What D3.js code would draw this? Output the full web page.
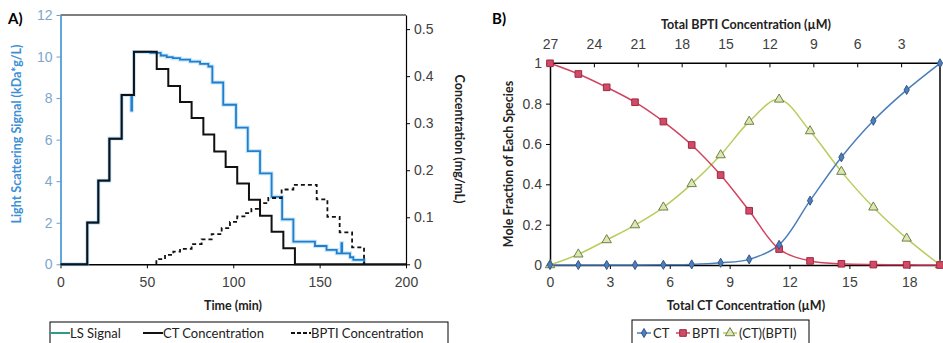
<!DOCTYPE html>
<html>
<head>
<meta charset="utf-8">
<script src="https://cdn.jsdelivr.net/npm/d3@7"></script>
<style>
  html, body { margin: 0; padding: 0; background: #ffffff; }
  svg { display: block; font-family: Lato, "Open Sans", sans-serif; }
</style>
</head>
<body>
<svg id="chart" width="943" height="343"></svg>
<script>
// ---------- Panel A: titration time course ----------
const timeTicks = [0, 50, 100, 150, 200];
const lsTicks = [0, 2, 4, 6, 8, 10, 12];
const concTicks = [0, 0.1, 0.2, 0.3, 0.4, 0.5];

// light scattering signal (kDa*g/L), step series
const lsTime = [0, 15.5, 21.9, 28.3, 35.4, 41.0, 41.4, 42.5, 52, 58, 61.5, 65, 69.2, 75, 80.8, 85.6, 87.9, 94.2, 101.6, 108.4, 115.5, 122.2, 128.3, 134.8, 147.3, 154.0, 159.9, 162.6, 163.0, 167.6, 169.5, 175.8];
const lsSignal = [0, 2.0, 4.02, 6.05, 8.15, 7.4, 8.15, 10.22, 10.18, 10.05, 9.97, 9.92, 9.85, 9.76, 9.65, 9.52, 8.75, 7.68, 6.58, 5.45, 4.38, 3.25, 2.16, 1.09, 0.88, 0.69, 0.53, 1.02, 0.53, 0.34, 0.21, 0];

// CT concentration (mg/mL)
const ctTime = [0, 15.5, 21.9, 28.3, 35.4, 42.5, 55.7, 62.4, 69.2, 75.9, 82.7, 89.0, 95.6, 102.3, 109.1, 115.5, 122.2, 129.0, 135.7, 200];
const ctConc = [0, 0.089, 0.178, 0.267, 0.360, 0.452, 0.415, 0.379, 0.345, 0.311, 0.276, 0.240, 0.207, 0.172, 0.137, 0.103, 0.069, 0.034, 0, 0];

// BPTI concentration (mg/mL)
const bptiTime = [55.5, 55.5, 60.5, 65.3, 69.2, 75.9, 81.7, 87.5, 93.3, 98.1, 102.3, 106.5, 110.5, 115.5, 120.3, 128.0, 134.8, 148.3, 154.5, 161.6, 168.8, 175.7];
const bptiConc = [0, 0.011, 0.020, 0.027, 0.033, 0.043, 0.053, 0.064, 0.077, 0.090, 0.102, 0.109, 0.118, 0.130, 0.141, 0.159, 0.169, 0.138, 0.101, 0.068, 0.036, 0];

// ---------- Panel B: equilibrium mole fractions ----------
const ctTotalTicks = [0, 3, 6, 9, 12, 15, 18];
const bptiTotalTicks = [27, 24, 21, 18, 15, 12, 9, 6, 3];
const fracTicks = [0, 0.2, 0.4, 0.6, 0.8, 1];

const ctTotal = [0, 1.42, 2.84, 4.26, 5.68, 7.10, 8.55, 9.98, 11.48, 13.03, 14.6, 16.2, 17.87, 19.54];
const fracCT = [0, 0, 0, 0, 0.001, 0.003, 0.011, 0.028, 0.10, 0.319, 0.534, 0.715, 0.868, 1.0];
const fracBPTI = [1.0, 0.947, 0.881, 0.807, 0.711, 0.595, 0.446, 0.269, 0.079, 0.02, 0.006, 0.002, 0.001, 0];
const fracComplex = [0, 0.053, 0.124, 0.198, 0.286, 0.402, 0.545, 0.711, 0.821, 0.664, 0.463, 0.286, 0.132, 0];

const svg = d3.select("#chart");
const grayText = "#404040";

// ===== Panel A =====
const xA = d3.scaleLinear().domain([0, 200]).range([60.5, 406]);
const yL = d3.scaleLinear().domain([0, 12]).range([264.3, 15]);
const yR = d3.scaleLinear().domain([0, 0.53]).range([264.3, 15]);

const gA = svg.append("g");

// frame top line
gA.append("line").attr("x1", xA(0)).attr("x2", xA(200)).attr("y1", 15).attr("y2", 15)
  .attr("stroke", "#000").attr("stroke-width", 1.2);

const axA = gA.append("g").attr("transform", `translate(0,${yL(0)})`)
  .call(d3.axisBottom(xA).tickValues(timeTicks).tickSize(4).tickSizeOuter(0));
axA.selectAll("text").attr("fill", grayText).style("font-size", "14px").attr("dy", "1.1em");

const ayL = gA.append("g").attr("transform", `translate(${xA(0)},0)`)
  .call(d3.axisLeft(yL).tickValues(lsTicks).tickSize(4).tickSizeOuter(0));
ayL.select(".domain").attr("stroke", "#3d8fd6").attr("stroke-width", 1.6);
ayL.selectAll(".tick line").attr("stroke", "#6d9ccc");
ayL.selectAll("text").attr("fill", "#7ea6cc").style("font-size", "14px").attr("x", -8);

const ayR = gA.append("g").attr("transform", `translate(${xA(200)},0)`)
  .call(d3.axisRight(yR).tickValues(concTicks).tickSize(4).tickSizeOuter(0)
    .tickFormat(d => d === 0 ? "0" : d3.format(".1f")(d)));
ayR.selectAll("text").attr("fill", grayText).style("font-size", "14px").attr("x", 8);
[axA, ayR].forEach(a => a.select(".domain").attr("stroke", "#000").attr("stroke-width", 1.2));
axA.select(".domain").attr("stroke-width", 1.6);

const stepLine = (xs, ys, yScale) =>
  d3.line().curve(d3.curveStepAfter).x((d, i) => xA(xs[i])).y((d, i) => yScale(ys[i]))(xs);

// LS signal with soft halo
gA.append("path").attr("d", stepLine(lsTime, lsSignal, yL))
  .attr("fill", "none").attr("stroke", "#8cc8f0").attr("stroke-width", 4).attr("opacity", 0.45);
gA.append("path").attr("d", stepLine(lsTime, lsSignal, yL))
  .attr("fill", "none").attr("stroke", "#1f7fcf").attr("stroke-width", 1.8);

gA.append("path").attr("d", stepLine(ctTime, ctConc, yR))
  .attr("fill", "none").attr("stroke", "#111").attr("stroke-width", 2);
gA.append("path").attr("d", stepLine(bptiTime, bptiConc, yR))
  .attr("fill", "none").attr("stroke", "#111").attr("stroke-width", 1.8)
  .attr("stroke-dasharray", "4,3");

// titles
gA.append("text").attr("x", 8).attr("y", 24).text("A)")
  .style("font-size", "15px").style("font-weight", "bold").attr("fill", "#000");
gA.append("text").attr("transform", "translate(21,134) rotate(-90)").attr("text-anchor", "middle")
  .text("Light Scattering  Signal (kDa*g/L)")
  .style("font-size", "12.5px").style("font-weight", "bold").attr("fill", "#3d8fd6");
gA.append("text").attr("transform", "translate(455,139) rotate(90)").attr("text-anchor", "middle")
  .text("Concentration (mg/mL)")
  .style("font-size", "12.5px").style("font-weight", "bold").attr("fill", "#222");
gA.append("text").attr("x", 233).attr("y", 310).attr("text-anchor", "middle")
  .text("Time (min)").style("font-size", "12.5px").style("font-weight", "bold").attr("fill", "#222");

// legend A
const lgA = gA.append("g");
lgA.append("rect").attr("x", 50).attr("y", 322).attr("width", 398).attr("height", 30)
  .attr("fill", "none").attr("stroke", "#000").attr("stroke-width", 1);
const legA = [
  { x: 50, label: "LS Signal", color: "#2e9a8a", dash: null },
  { x: 143, label: "CT Concentration", color: "#111", dash: null },
  { x: 291, label: "BPTI Concentration", color: "#111", dash: "4,2" }
];
legA.forEach(d => {
  lgA.append("line").attr("x1", d.x).attr("x2", d.x + 20).attr("y1", 333).attr("y2", 333)
    .attr("stroke", d.color).attr("stroke-width", 2).attr("stroke-dasharray", d.dash);
  lgA.append("text").attr("x", d.x + 20).attr("y", 338).text(d.label)
    .style("font-size", "13px").attr("fill", "#222");
});

// ===== Panel B =====
const xB = d3.scaleLinear().domain([0, 19.54]).range([550, 940]);
const xBTop = d3.scaleLinear().domain([27, 0]).range([550, 945]);
const yB = d3.scaleLinear().domain([0, 1]).range([265, 63.3]);

const gB = svg.append("g");

const bx = gB.append("g").attr("transform", `translate(0,${yB(0)})`)
  .call(d3.axisBottom(xB).tickValues(ctTotalTicks).tickSize(4).tickSizeOuter(0));
bx.selectAll("text").attr("fill", grayText).style("font-size", "14px").attr("dy", "1.1em");

const bxTop = gB.append("g").attr("transform", `translate(0,${yB(1)})`)
  .call(d3.axisTop(xBTop).tickValues(bptiTotalTicks).tickSizeInner(-4).tickSizeOuter(0));
bxTop.select(".domain").attr("d", `M550,0H940`);
bxTop.selectAll("text").attr("fill", grayText).style("font-size", "14px").attr("y", -14);

const by = gB.append("g").attr("transform", `translate(${xB(0)},0)`)
  .call(d3.axisLeft(yB).tickValues(fracTicks).tickSize(4).tickSizeOuter(0)
    .tickFormat(d => (d === 0 || d === 1) ? String(d) : d3.format(".1f")(d)));
by.selectAll("text").attr("fill", grayText).style("font-size", "14px").attr("x", -8);

[bx, bxTop, by].forEach(a => a.select(".domain").attr("stroke", "#000").attr("stroke-width", 1.5));

gB.append("line").attr("x1", 940).attr("x2", 940).attr("y1", yB(1)).attr("y2", yB(0))
  .attr("stroke", "#000").attr("stroke-width", 1.5);

const smooth = ys => d3.line().curve(d3.curveCatmullRom.alpha(0.5))
  .x((d, i) => xB(ctTotal[i])).y((d, i) => yB(ys[i]))(ctTotal);

const series = [
  { ys: fracComplex, line: "#b9cc5c", fill: "#dbe8b2", stroke: "#6f7f4a", shape: d3.symbolTriangle, size: 38 },
  { ys: fracBPTI, line: "#d2435f", fill: "#d34a66", stroke: "#9e2a44", shape: d3.symbolSquare, size: 44 },
  { ys: fracCT, line: "#4a7ebb", fill: "#4f7fba", stroke: "#34578a", shape: d3.symbolDiamond, size: 24 }
];
series.forEach(s => {
  gB.append("path").attr("d", smooth(s.ys)).attr("fill", "none")
    .attr("stroke", s.line).attr("stroke-width", 1.5);
});
series.forEach(s => {
  gB.append("g").selectAll("path").data(ctTotal).join("path")
    .attr("transform", (d, i) => `translate(${xB(d)},${yB(s.ys[i])})`)
    .attr("d", d3.symbol().type(s.shape).size(s.size))
    .attr("fill", s.fill).attr("stroke", s.stroke).attr("stroke-width", 1);
});

gB.append("text").attr("x", 492).attr("y", 24).text("B)")
  .style("font-size", "15px").style("font-weight", "bold").attr("fill", "#000");
gB.append("text").attr("x", 746).attr("y", 29).attr("text-anchor", "middle")
  .text("Total BPTI Concentration (µM)").style("font-size", "12.5px").style("font-weight", "bold").attr("fill", "#222");
gB.append("text").attr("x", 746).attr("y", 310).attr("text-anchor", "middle")
  .text("Total CT Concentration (µM)").style("font-size", "12.5px").style("font-weight", "bold").attr("fill", "#222");
gB.append("text").attr("transform", "translate(513,164) rotate(-90)").attr("text-anchor", "middle")
  .text("Mole Fraction of Each Species").style("font-size", "12.5px").style("font-weight", "bold").attr("fill", "#222");

// legend B
const lgB = gB.append("g");
lgB.append("rect").attr("x", 632).attr("y", 320).attr("width", 177).attr("height", 30)
  .attr("fill", "none").attr("stroke", "#000").attr("stroke-width", 1);
const legB = [
  { x: 637, label: "CT", s: series[2] },
  { x: 676, label: "BPTI", s: series[1] },
  { x: 723, label: "(CT)(BPTI)", s: series[0] }
];
legB.forEach(d => {
  lgB.append("line").attr("x1", d.x).attr("x2", d.x + 14).attr("y1", 333).attr("y2", 333)
    .attr("stroke", d.s.line).attr("stroke-width", 1.5);
  lgB.append("path").attr("transform", `translate(${d.x + 7},333)`)
    .attr("d", d3.symbol().type(d.s.shape).size(d.s.size))
    .attr("fill", d.s.fill).attr("stroke", d.s.stroke);
  lgB.append("text").attr("x", d.x + 16).attr("y", 338).text(d.label)
    .style("font-size", "13px").attr("fill", "#222");
});
</script>
</body>
</html>
